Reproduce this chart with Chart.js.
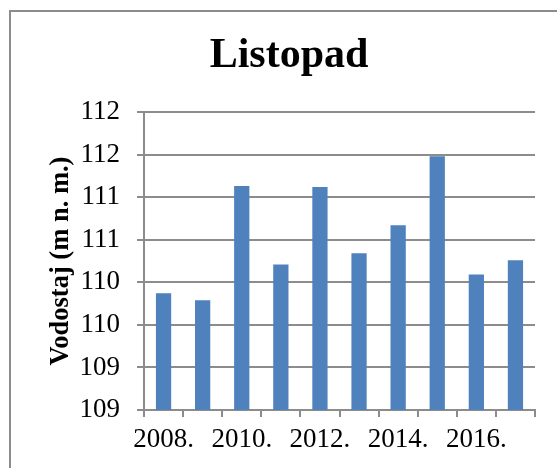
<!DOCTYPE html>
<html>
<head>
<meta charset="utf-8">
<script src="https://cdn.jsdelivr.net/npm/chart.js@4/dist/chart.umd.min.js"></script>
<style>
    html, body { margin: 0; padding: 0; background: #fff; overflow: hidden; }
    #wrap { position: relative; width: 557px; height: 468px; overflow: hidden; }
    #frame { position: absolute; left: 9px; top: 10px; width: 600px; height: 600px; border: 2px solid #8c8c8c; box-sizing: border-box; }
    #chart { position: absolute; left: 0; top: 0; }
</style>
</head>
<body>
<div id="wrap">
    <div id="frame"></div>
    <canvas id="chart" width="578" height="468"></canvas>
</div>
<script>
    // Data
    const years = ['2008.', '2009.', '2010.', '2011.', '2012.', '2013.', '2014.', '2015.', '2016.', '2017.'];
    const waterLevel = [110.17, 110.09, 111.43, 110.51, 111.42, 110.64, 110.97, 111.78, 110.39, 110.56];
    const yTickValues = [108.8, 109.3, 109.8, 110.3, 110.8, 111.3, 111.8, 112.3];
    const yTickLabels = ['109', '109', '110', '110', '111', '111', '112', '112'];

    const serif = 'Liberation Serif, Times New Roman, serif';
    const gridColor = '#8c8c8c';

    const ctx = document.getElementById('chart').getContext('2d');
    new Chart(ctx, {
        type: 'bar',
        data: {
            labels: years,
            datasets: [{
                label: 'Vodostaj',
                data: waterLevel,
                backgroundColor: '#4f81bd',
                borderWidth: 0,
                categoryPercentage: 1,
                barPercentage: 0.39
            }]
        },
        options: {
            responsive: false,
            devicePixelRatio: 1,
            animation: false,
            layout: { padding: 0 },
            plugins: {
                legend: { display: false },
                tooltip: { enabled: false },
                title: {
                    display: true,
                    text: 'Listopad',
                    color: '#000',
                    font: { family: serif, size: 42, weight: 'bold', lineHeight: 1.2 },
                    padding: { top: 31, bottom: 30.6 }
                }
            },
            scales: {
                x: {
                    afterFit: function(scale) { scale.height = 58; },
                    grid: {
                        offset: true,
                        drawOnChartArea: false,
                        drawTicks: true,
                        tickLength: 7,
                        color: gridColor,
                        lineWidth: 2
                    },
                    border: { display: true, color: gridColor, width: 2 },
                    ticks: {
                        autoSkip: false,
                        maxRotation: 0,
                        padding: 7,
                        color: '#000',
                        font: { family: serif, size: 27 },
                        callback: function(value, index) {
                            return index % 2 === 0 ? years[index] : '';
                        }
                    }
                },
                y: {
                    min: yTickValues[0],
                    max: yTickValues[yTickValues.length - 1],
                    afterFit: function(scale) { scale.width = 144; },
                    afterBuildTicks: function(scale) {
                        scale.ticks = yTickValues.map(v => ({ value: v }));
                    },
                    grid: {
                        color: gridColor,
                        lineWidth: 2,
                        tickLength: 7
                    },
                    border: { display: true, color: gridColor, width: 2 },
                    ticks: {
                        padding: 17,
                        color: '#000',
                        font: { family: serif, size: 27 },
                        callback: function(value, index) {
                            return yTickLabels[index];
                        }
                    },
                    title: {
                        display: true,
                        text: 'Vodostaj (m n. m.)',
                        color: '#000',
                        font: { family: serif, size: 26.5, weight: 'bold', lineHeight: 1.2 },
                        padding: { top: 45, bottom: 0 }
                    }
                },
                // empty right-hand spacer so the plot ends where the reference's does
                spacer: {
                    type: 'linear',
                    position: 'right',
                    afterFit: function(scale) { scale.width = 43; },
                    grid: { display: false },
                    border: { display: false },
                    ticks: { display: false }
                }
            }
        }
    });
</script>
</body>
</html>
